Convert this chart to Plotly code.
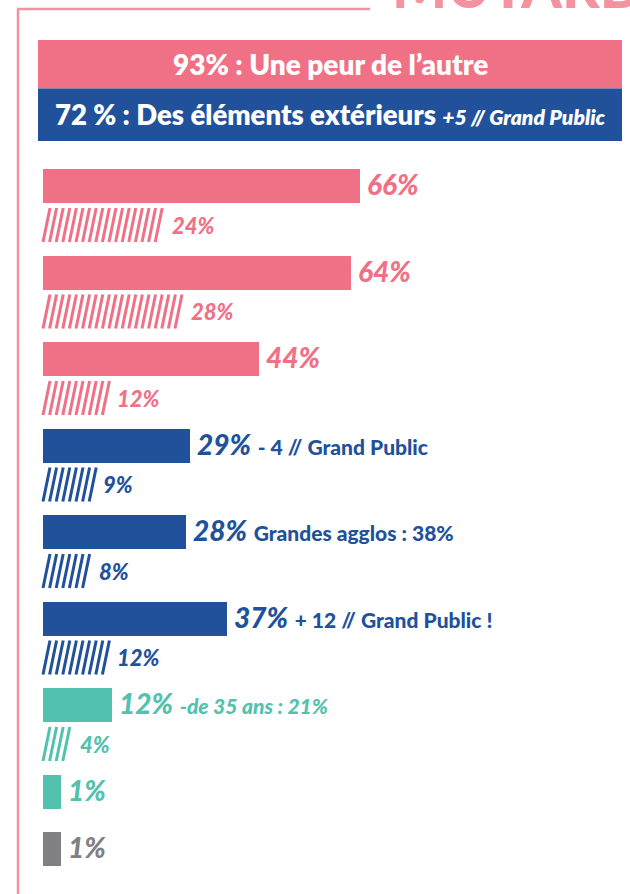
import plotly.graph_objects as go

# ---------------- data ----------------
header_labels = ["93% : Une peur de l’autre", "72 % : Des éléments extérieurs"]
header_notes = ["", "+5 // Grand Public"]
header_groups = ["pink", "blue"]

main_values = [66, 64, 44, 29, 28, 37, 12, 1, 1]
hatch_values = [24, 28, 12, 9, 8, 12, 4, None, None]
groups = ["pink", "pink", "pink", "blue", "blue", "blue", "teal", "teal", "gray"]
notes = ["", "", "", "- 4 // Grand Public", "Grandes agglos : 38%",
         "+ 12 // Grand Public !", "-de 35 ans : 21%", "", ""]
notes_italic = [False, False, False, False, False, False, True, False, False]
corner_title = "MUTARDS"

# ---------------- style / layout ----------------
W, H = 630, 894
COLORS = {"pink": "#F07086", "blue": "#21519B", "teal": "#52C1AE", "gray": "#808084"}
FRAME = "#F4929F"
FONT = "Lato"
PX_PER_PCT = 4.6
BAR_BASE = -3
LEFT_PX = 43
X0 = BAR_BASE - LEFT_PX / PX_PER_PCT
X1 = X0 + W / PX_PER_PCT

FIRST_Y = 186
PAIR_PITCH = 86.5
SINGLE_PITCH = 57
HATCH_OFFSET = 39
BAR_H = 34
STRIPE_STEP = 6.6 / PX_PER_PCT
STRIPE_SLANT = 7 / PX_PER_PCT
STRIPE_HALF = 17

# compute row centres
centers = []
y = FIRST_Y
for hv in hatch_values:
    centers.append(y)
    y += PAIR_PITCH if hv is not None else SINGLE_PITCH

fig = go.Figure()

# solid bars
fig.add_trace(go.Bar(
    x=[v - BAR_BASE for v in main_values], y=centers, base=BAR_BASE,
    orientation="h", width=BAR_H,
    marker=dict(color=[COLORS[g] for g in groups], line=dict(width=0)),
    hoverinfo="skip", showlegend=False,
))

# hatched bars drawn as slanted stripes
for g in ["pink", "blue", "teal"]:
    xs, ys = [], []
    for hv, gr, c in zip(hatch_values, groups, centers):
        if hv is None or gr != g:
            continue
        yc = c + HATCH_OFFSET
        xb = BAR_BASE
        while xb + STRIPE_SLANT <= hv + 1e-9:
            xs += [xb, xb + STRIPE_SLANT, None]
            ys += [yc + STRIPE_HALF, yc - STRIPE_HALF, None]
            xb += STRIPE_STEP
    fig.add_trace(go.Scatter(x=xs, y=ys, mode="lines",
                             line=dict(color=COLORS[g], width=3),
                             hoverinfo="skip", showlegend=False))

annotations = []
# value labels
for v, hv, g, c, note, it in zip(main_values, hatch_values, groups, centers, notes, notes_italic):
    txt = f"<i>{v}%</i>"
    if note:
        inner = f"<i>{note}</i>" if it else note
        txt += f" <span style='font-size:21px'>{inner}</span>"
    annotations.append(dict(x=v, y=c - 2, xref="x", yref="y", text=txt,
                            xanchor="left", yanchor="middle", xshift=5,
                            showarrow=False,
                            font=dict(family=FONT, size=28, weight=900, color=COLORS[g])))
    if hv is not None:
        annotations.append(dict(x=hv, y=c + HATCH_OFFSET, xref="x", yref="y",
                                text=f"<i>{hv}%</i>", xanchor="left",
                                yanchor="middle", xshift=3, showarrow=False,
                                font=dict(family=FONT, size=22, weight=900, color=COLORS[g])))

# header boxes
shapes = []
HDR_TOP, HDR_H = 40, [48.5, 52.5]
HDR_SIZES = [28, 27.5]
top = HDR_TOP
for lab, note, g, h, fs in zip(header_labels, header_notes, header_groups, HDR_H, HDR_SIZES):
    shapes.append(dict(type="rect", xref="paper", yref="y", x0=38 / W, x1=622 / W,
                       y0=top, y1=top + h, fillcolor=COLORS[g], line=dict(width=0),
                       layer="below"))
    txt = f"{lab}"
    if note:
        txt += f" <i><span style='font-size:21px'>{note}</span></i>"
    annotations.append(dict(x=330 / W, y=top + h / 2, xref="paper", yref="y",
                            text=txt, showarrow=False, xanchor="center",
                            yanchor="middle",
                            font=dict(family=FONT, size=fs, weight=800, color="white")))
    top += h

# frame lines
shapes.append(dict(type="line", xref="paper", yref="y", x0=18 / W, x1=18 / W,
                   y0=9, y1=H + 5, line=dict(color=FRAME, width=2.5)))
shapes.append(dict(type="line", xref="paper", yref="y", x0=17 / W, x1=370 / W,
                   y0=9, y1=9, line=dict(color=FRAME, width=2.5)))

annotations.append(dict(x=390 / W, y=22, xref="paper", yref="y", text=corner_title,
                        xanchor="left", yanchor="bottom", showarrow=False,
                        font=dict(family=FONT, size=58, weight=900, color=FRAME)))

fig.update_layout(
    width=W, height=H, margin=dict(l=0, r=0, t=0, b=0),
    paper_bgcolor="white", plot_bgcolor="white",
    xaxis=dict(range=[X0, X1], visible=False, fixedrange=True),
    yaxis=dict(range=[H, 0], visible=False, fixedrange=True),
    shapes=shapes, annotations=annotations, bargap=0,
)

fig.write_html("out.html", config={"displayModeBar": False},
               post_script="document.body.style.margin='0';")
